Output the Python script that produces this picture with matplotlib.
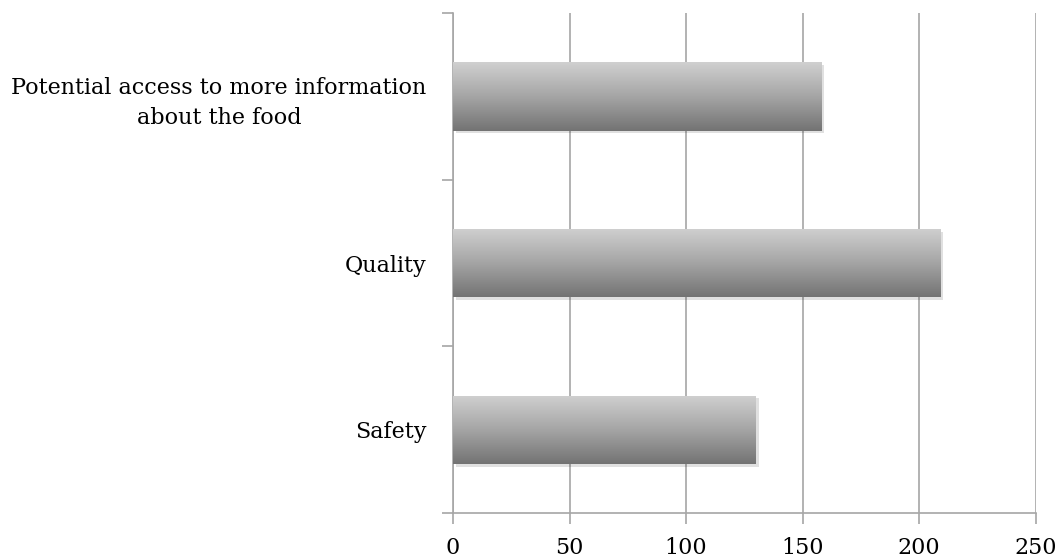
import numpy as np
import matplotlib
matplotlib.use('Agg')
import matplotlib.pyplot as plt
import matplotlib.patheffects as pe
from matplotlib.ticker import MultipleLocator, FixedLocator

# data (bottom to top)
categories = ['Safety', 'Quality', 'Potential access to more information\nabout the food']
values = [130, 209, 158]
x_ticks = [0, 50, 100, 150, 200, 250]

plt.rcParams['font.family'] = ['DejaVu Serif']

fig = plt.figure(figsize=(10.59, 5.59), dpi=100)
ax = fig.add_axes([0.4278, 0.0823, 0.978 - 0.4278, 0.9767 - 0.0823])

grey = '#a6a6a6'

# bars with a soft drop shadow
bars = ax.barh(range(len(categories)), values, height=0.41, color='#a0a0a0',
               edgecolor='none', zorder=3,
               path_effects=[pe.SimplePatchShadow(offset=(2, -2), shadow_rgbFace='#000000', alpha=0.12),
                             pe.Normal()])

# vertical gradient: light top -> dark bottom
grad = np.linspace(0, 1, 256).reshape(-1, 1)
cmap = matplotlib.colors.LinearSegmentedColormap.from_list('g', ['#d0d0d0', '#a5a5a5', '#737373'])
for b in bars:
    x0, y0 = b.get_x(), b.get_y()
    w, h = b.get_width(), b.get_height()
    im = ax.imshow(grad, cmap=cmap, aspect='auto', extent=(x0, x0 + w, y0, y0 + h),
                   origin='upper', zorder=4)
    im.set_clip_path(b)

ax.set_xlim(0, 250)
ax.set_ylim(-0.5, len(categories) - 0.5)

ax.xaxis.set_major_locator(FixedLocator(x_ticks))
ax.set_yticks(range(len(categories)))
ax.set_yticklabels(categories, multialignment='center', linespacing=1.5)
ax.yaxis.set_minor_locator(MultipleLocator(1, offset=0.5))

ax.tick_params(axis='y', which='major', length=0, pad=19, labelsize=16)
ax.tick_params(axis='y', which='minor', length=8, width=1.2, color=grey)
ax.tick_params(axis='x', length=8, width=1.2, color=grey, pad=9, labelsize=16)

ax.grid(axis='x', color=grey, linewidth=1.2, zorder=0)
ax.set_axisbelow(True)

for s in ['top', 'right']:
    ax.spines[s].set_visible(False)
for s in ['left', 'bottom']:
    ax.spines[s].set_color(grey)
    ax.spines[s].set_linewidth(1.2)

fig.savefig('out.png', dpi=100)
